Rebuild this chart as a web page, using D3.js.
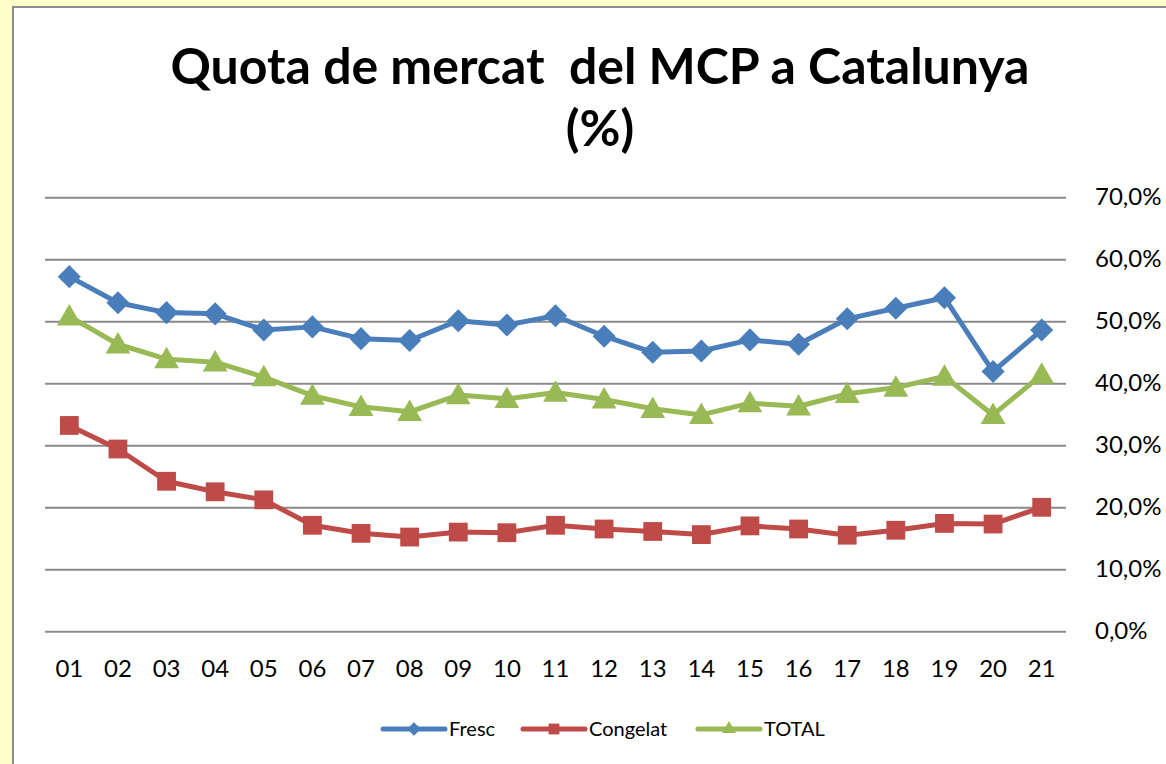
<!DOCTYPE html>
<html>
<head>
<meta charset="utf-8">
<script src="https://cdn.jsdelivr.net/npm/d3@7"></script>
<style>
  body { margin: 0; background: #ffffcc; }
  svg { display: block; }
</style>
</head>
<body>
<svg id="chart" width="1166" height="764"></svg>
<script>
// data
var years = ["01","02","03","04","05","06","07","08","09","10","11","12","13","14","15","16","17","18","19","20","21"];
var fresc = [57.2,53.0,51.4,51.2,48.6,49.1,47.2,46.9,50.1,49.4,50.9,47.6,45.0,45.2,47.0,46.3,50.4,52.1,53.8,41.9,48.6];
var congelat = [33.2,29.4,24.2,22.5,21.2,17.1,15.8,15.2,16.0,15.9,17.1,16.5,16.1,15.6,17.0,16.5,15.5,16.3,17.4,17.3,20.0];
var total = [50.8,46.3,43.9,43.4,41.0,38.0,36.2,35.4,38.1,37.5,38.5,37.4,35.9,34.9,36.8,36.3,38.3,39.3,41.1,34.9,41.4];
var yTicks = [0,10,20,30,40,50,60,70];

var series = [
    {name: "Fresc", values: fresc, color: "#4a7ebb", shape: "diamond"},
    {name: "Congelat", values: congelat, color: "#be4b48", shape: "square"},
    {name: "TOTAL", values: total, color: "#98b954", shape: "triangle"}
];

var svg = d3.select("#chart");
var font = "Lato, 'Open Sans', sans-serif";

// chart area (white box with grey border, cut off at right/bottom)
svg.append("rect")
    .attr("x", 13).attr("y", 7)
    .attr("width", 1200).attr("height", 800)
    .attr("fill", "#ffffff")
    .attr("stroke", "#8c8c8c")
    .attr("stroke-width", 2);

// title
svg.append("text")
    .attr("x", 600).attr("y", 84)
    .attr("text-anchor", "middle")
    .attr("font-family", font)
    .attr("font-weight", "bold")
    .attr("font-size", 50)
    .style("white-space", "pre")
    .text("Quota de mercat  del MCP a Catalunya");
svg.append("text")
    .attr("x", 600).attr("y", 146)
    .attr("text-anchor", "middle")
    .attr("font-family", font)
    .attr("font-weight", "bold")
    .attr("font-size", 50)
    .text("(%)");

var x = d3.scaleBand()
    .domain(years)
    .range([45, 1066]);

var y = d3.scaleLinear()
    .domain([0, 70])
    .range([631.3, 197.3]);

// gridlines + right axis labels
var yAxis = d3.axisRight(y)
    .tickValues(yTicks)
    .tickSize(1066 - 45)
    .tickFormat(d => d3.format(".1f")(d).replace(".", ",") + "%");
var gy = svg.append("g")
    .attr("transform", "translate(45,0)")
    .call(yAxis);
gy.select(".domain").remove();
gy.selectAll(".tick line")
    .attr("stroke", "#8a8a8a")
    .attr("stroke-width", 2);
gy.selectAll(".tick text")
    .attr("x", 1050)
    .attr("font-family", font)
    .attr("font-size", 24)
    .attr("fill", "#000");

// bottom category labels
var xAxis = d3.axisBottom(x).tickSize(0);
var gx = svg.append("g")
    .attr("transform", "translate(0,631)")
    .call(xAxis);
gx.select(".domain").remove();
gx.selectAll(".tick text")
    .attr("y", 29)
    .attr("font-family", font)
    .attr("font-size", 24)
    .attr("fill", "#000");

var line = d3.line()
    .x((d, i) => x(years[i]) + x.bandwidth() / 2)
    .y(d => y(d));

function symbolFor(shape, size) {
    var t = shape == "diamond" ? d3.symbolDiamond2 : shape == "square" ? d3.symbolSquare2 : d3.symbolTriangle2;
    return d3.symbol().type(t).size(size)();
}

series.forEach(function(s) {
    svg.append("path")
        .datum(s.values)
        .attr("fill", "none")
        .attr("stroke", s.color)
        .attr("stroke-width", 5)
        .attr("stroke-linejoin", "round")
        .attr("d", line);
    var msize = s.shape == "diamond" ? 340 : s.shape == "square" ? 450 : 440;
    svg.selectAll("path.m-" + s.shape)
        .data(s.values)
        .enter()
        .append("path")
        .attr("class", "m-" + s.shape)
        .attr("d", symbolFor(s.shape, msize))
        .attr("fill", s.color)
        .attr("transform", (d, i) => "translate(" + (x(years[i]) + x.bandwidth() / 2) + "," + (y(d) + (s.shape == "triangle" ? 2 : 0)) + ")");
});

// legend
var legendX = [383, 523, 698];
var legend = svg.selectAll("g.legend")
    .data(series)
    .enter()
    .append("g")
    .attr("class", "legend")
    .attr("transform", (d, i) => "translate(" + legendX[i] + ",729)");
legend.append("line")
    .attr("x1", 0).attr("x2", 62)
    .attr("stroke", d => d.color)
    .attr("stroke-width", 5)
    .attr("stroke-linecap", "round");
legend.append("path")
    .attr("d", d => symbolFor(d.shape, d.shape == "diamond" ? 120 : d.shape == "square" ? 150 : 140))
    .attr("fill", d => d.color)
    .attr("transform", "translate(31,0)");
legend.append("text")
    .attr("x", 66)
    .attr("dy", "0.35em")
    .attr("font-family", font)
    .attr("font-size", 20)
    .attr("fill", "#000")
    .text(d => d.name);
</script>
</body>
</html>
